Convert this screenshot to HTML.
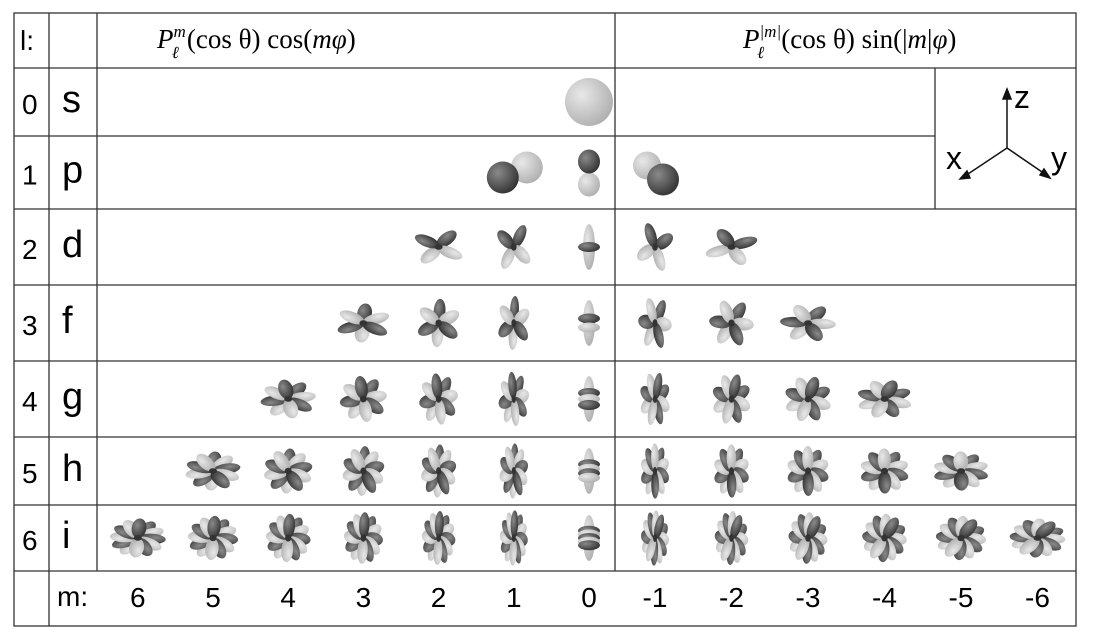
<!DOCTYPE html>
<html><head><meta charset="utf-8">
<style>
html,body{margin:0;padding:0;background:#fff;}
body{width:1100px;height:634px;overflow:hidden;font-family:"Liberation Sans",sans-serif;}
</style></head>
<body>
<svg id="chart" width="1100" height="634" viewBox="0 0 1100 634" xmlns="http://www.w3.org/2000/svg">
<defs>
<radialGradient id="gDark" cx="0.35" cy="0.35" r="0.8"><stop offset="0" stop-color="#8a8a8a"/><stop offset="1" stop-color="#262626"/></radialGradient>
<radialGradient id="gLight" cx="0.35" cy="0.35" r="0.8"><stop offset="0" stop-color="#e8e8e8"/><stop offset="1" stop-color="#a8a8a8"/></radialGradient>
</defs>
<g id="grid" stroke="#333" stroke-width="1.3" fill="none">
<rect x="14" y="13" width="1062" height="613"/>
<line x1="49" y1="13" x2="49" y2="626"/>
<line x1="97" y1="13" x2="97" y2="571"/>
<line x1="615" y1="13" x2="615" y2="571"/>
<line x1="935" y1="68" x2="935" y2="209"/>
<line x1="14" y1="68" x2="1076" y2="68"/>
<line x1="14" y1="136" x2="615" y2="136"/>
<line x1="615" y1="136" x2="935" y2="136"/>
<line x1="14" y1="209" x2="1076" y2="209"/>
<line x1="14" y1="285" x2="1076" y2="285"/>
<line x1="14" y1="361" x2="1076" y2="361"/>
<line x1="14" y1="437" x2="1076" y2="437"/>
<line x1="14" y1="505" x2="1076" y2="505"/>
<line x1="14" y1="571" x2="1076" y2="571"/>
</g>
<text x="20" y="50" font-size="28">l:</text>
<text x="157" y="48" font-size="27" font-family="Liberation Serif,serif"><tspan font-style="italic">P</tspan><tspan font-size="17" dy="-11" font-style="italic">m</tspan><tspan font-size="17" dx="-14" dy="21" font-style="italic">ℓ</tspan><tspan dy="-10" dx="8">(cos θ)  cos(</tspan><tspan font-style="italic">mφ</tspan><tspan>)</tspan></text>
<text x="743" y="48" font-size="27" font-family="Liberation Serif,serif"><tspan font-style="italic">P</tspan><tspan font-size="17" dy="-11" font-style="italic">|m|</tspan><tspan font-size="17" dx="-24" dy="21" font-style="italic">ℓ</tspan><tspan dy="-10" dx="17">(cos θ)  sin(|</tspan><tspan font-style="italic">m</tspan><tspan>|</tspan><tspan font-style="italic">φ</tspan><tspan>)</tspan></text>
<g id="axes" stroke="#111" stroke-width="1.5">
<line x1="1007" y1="148" x2="1007" y2="95"/><polygon points="1007,89 1003,99 1011,99" fill="#111"/>
<line x1="1007" y1="148" x2="965" y2="176"/><polygon points="960,179 967,171 970,178" fill="#111"/>
<line x1="1007" y1="148" x2="1045" y2="174"/><polygon points="1050,178 1040,175 1044,169" fill="#111"/>
</g>
<text x="1014" y="108" font-size="32">z</text>
<text x="946" y="169" font-size="32">x</text>
<text x="1051" y="169" font-size="32">y</text>
<text x="57" y="606" font-size="28">m:</text>
<g id="orbitals"></g>
<g id="labels"></g>
</svg>
<script>
const lValues=[0,1,2,3,4,5,6];
const letters=["s","p","d","f","g","h","i"];
const mValues=[6,5,4,3,2,1,0,-1,-2,-3,-4,-5,-6];
const mLabels=["6","5","4","3","2","1","0","-1","-2","-3","-4","-5","-6"];
const NS="http://www.w3.org/2000/svg";
const rowTops=[68,136,209,285,361,437,505,571];
function yRow(l){return (rowTops[l]+rowTops[l+1])/2;}
function xCol(m){return m>=0?589-75.2*m:655+(-m-1)*76.5;}
const lab=document.getElementById('labels');
const orb=document.getElementById('orbitals');
function mk(tag,attrs,parent){const e=document.createElementNS(NS,tag);for(const k in attrs)e.setAttribute(k,attrs[k]);parent.appendChild(e);return e;}
lValues.forEach(l=>{
  const y=yRow(l);
  const t1=mk('text',{x:22,y:y+12,'font-size':28},lab);t1.textContent=l;
  
  
  const t2=mk('text',{x:62,y:y+10,'font-size':38},lab);t2.textContent=letters[l];
  
  
});
mValues.forEach((m,i)=>{
  const t=mk('text',{x:xCol(m),y:607,'font-size':28,'text-anchor':'middle'},lab);t.textContent=mLabels[i];
  
  
});
lValues.forEach(l=>{
  mValues.forEach(m=>{
    if(Math.abs(m)>l)return;
    const cx=xCol(m),cy=yRow(l);
    const g=mk('g',{transform:'translate('+cx+','+cy+')'},orb);
    
    
    if(l===0){mk('circle',{r:24,fill:'url(#gLight)'},g);return;}
    if(l===1){
      if(m===0){mk('ellipse',{cy:12,rx:11,ry:12,fill:'url(#gLight)'},g);mk('ellipse',{cy:-11,rx:11,ry:12,fill:'url(#gDark)'},g);}
      else if(m===1){mk('circle',{cx:13,cy:-5,r:16,fill:'url(#gLight)'},g);mk('circle',{cx:-11,cy:5,r:16,fill:'url(#gDark)'},g);}
      else{mk('circle',{cx:-8,cy:-7,r:14,fill:'url(#gLight)'},g);mk('circle',{cx:8,cy:7,r:16,fill:'url(#gDark)'},g);}
      return;
    }
    const am=Math.abs(m);
    if(m===0){
      mk('ellipse',{rx:6,ry:23,fill:'url(#gLight)'},g);
      for(let k=0;k<l-1;k++){const yy=-9+18*(k+0.5)/(l-1);mk('ellipse',{cy:yy,rx:11,ry:5,fill:k%2?'url(#gLight)':'url(#gDark)'},g);}
      return;
    }
    const frac=am/l;
    const sx=0.4+0.6*frac, sy=1-0.3*frac*frac;
    const n=l, R=28;
    const inner=mk('g',{transform:'scale('+sx+','+sy+') rotate('+(m<0?20:-10)+')'},g);
    for(let k=0;k<n;k++){
      const a=180*k/n+(l%2?15:45);
      mk('ellipse',{cx:0,cy:-R/2,rx:R/3.8,ry:R/2,fill:(k%2?'url(#gLight)':'url(#gDark)'),transform:'rotate('+(a)+')'},inner);
      mk('ellipse',{cx:0,cy:-R/2,rx:R/3.8,ry:R/2,fill:(k%2?'url(#gDark)':'url(#gLight)'),transform:'rotate('+(a+180)+')'},inner);
    }
    mk('circle',{r:4,fill:'#333'},inner);
  });
});
</script>
</body></html>
